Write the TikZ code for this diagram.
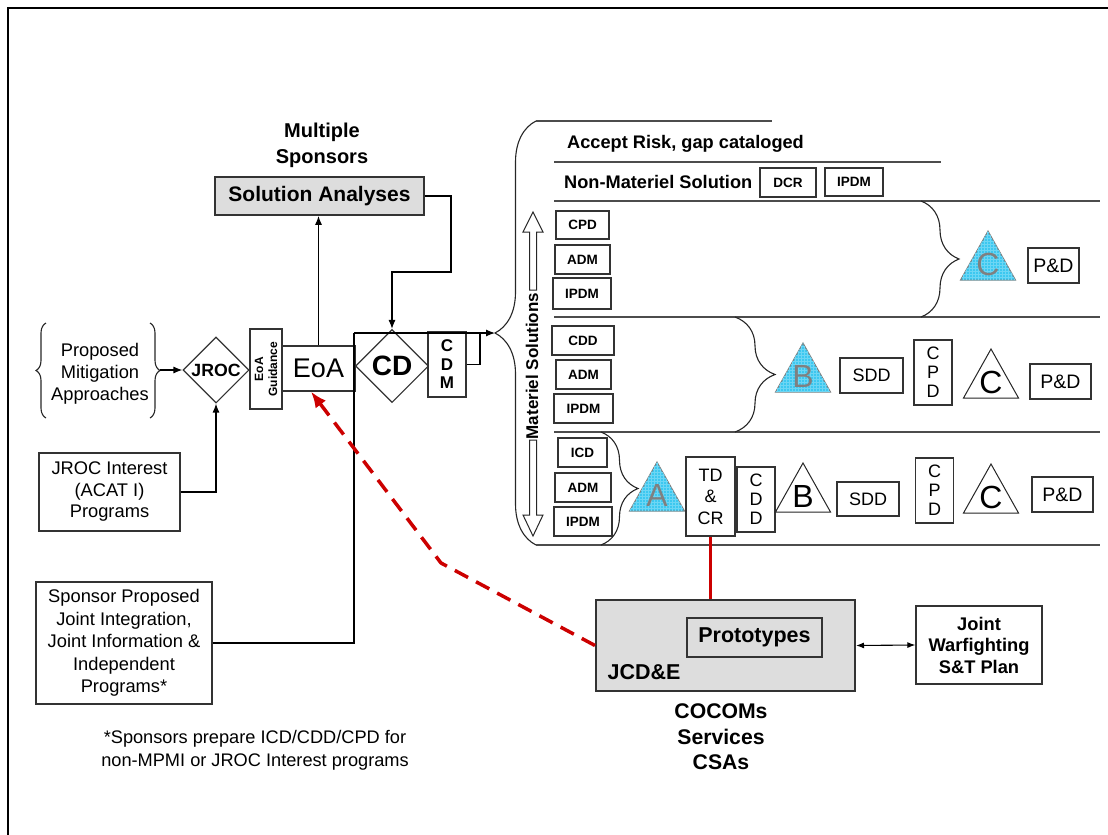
\documentclass[tikz,border=0pt]{standalone}
\usepackage{fontspec}
\setmainfont{Liberation Sans}
\usepackage{tikz}
\usetikzlibrary{arrows.meta,shapes.geometric,decorations.pathreplacing,patterns}

\definecolor{boxgray}{RGB}{221,221,221}
\definecolor{triblue}{RGB}{60,200,240}
\definecolor{signalred}{RGB}{204,0,0}

\newcommand{\fsz}[2]{\fontsize{#1}{#2}\selectfont}
% triangle milestone: name, x, base y, triangle style, letter colour, letter
\newcommand{\milestone}[6]{%
  \filldraw[#4] (#2-27.5,#3) -- (#2,#3-49) -- (#2+27.5,#3) -- cycle;
  \node[txt,text=#5,font=\fsz{32}{32}] (#1) at (#2,#3-16) {#6};
}

\tikzset{
  txt/.style={align=center,inner sep=0pt},
  box/.style={draw=black!80,line width=1.2pt,inner sep=0pt,align=center,font=\fsz{18.3}{21.5}},
  tinybox/.style={box,font=\bfseries\fsz{13.5}{15}},
  vertbox/.style={box,minimum width=38,minimum height=65,font=\fsz{18}{19}},
  greybox/.style={box,fill=boxgray,line width=1.6pt},
  decide/.style={draw=black!80,line width=1.1pt,diamond,aspect=1,inner sep=0pt},
  conn/.style={line width=1.2pt,-{Latex[length=9pt,width=7pt]}},
  curly/.style={decorate,decoration={brace,amplitude=#1},line width=1.1pt,draw=black!85},
  sepline/.style={line width=1.2pt,draw=black!70},
  hollow/.style={line width=1pt,draw=black!85,fill=white},
  bluetri/.style={draw=gray,line width=1pt,fill=triblue,postaction={pattern=grid,pattern color=white!25!triblue}},
  whitetri/.style={draw=black!85,line width=1pt,fill=white},
}

\begin{document}
\begin{tikzpicture}[x=1pt,y=-1pt]
\useasboundingbox (0,0) rectangle (1108,835);

% frame
\draw[line width=2.5pt] (8,835) -- (8,8) -- (1108,8);

% sponsors and analyses
\node[txt,font=\bfseries\fsz{20}{26}] (multi) at (322,145) {Multiple\\Sponsors};
\node[greybox,font=\bfseries\fsz{21}{24},minimum width=209,minimum height=38] (sa) at (319.5,196) {Solution Analyses};

% proposed mitigation
\node[txt,font=\fsz{18.3}{22}] (pma) at (100,374) {Proposed\\Mitigation\\Approaches};
\draw[curly=10] (46,418) -- (46,323);
\draw[curly=10] (150,323) -- (150,418);
\coordinate (pmtip) at (160,370);

% decision chain
\node[decide,minimum width=66,minimum height=66,font=\bfseries\fsz{17.7}{20}] (jroc) at (216,370) {JROC};
\node[box,rotate=90,minimum width=80,minimum height=32,font=\bfseries\fsz{12}{14}] (eoag) at (266,369) {EoA\\Guidance};
\node[box,minimum width=73,minimum height=45,font=\fsz{27}{28}] (eoa) at (318.5,368.5) {EoA};
\node[decide,minimum width=73,minimum height=73,font=\bfseries\fsz{28}{28}] (cd) at (392,366) {CD};
\node[box,minimum width=38,minimum height=65,font=\bfseries\fsz{17}{18.5}] (cdm) at (447,364.5) {C\\D\\M};

% program inputs
\node[box,minimum width=141,minimum height=78] (jint) at (109.5,492) {JROC Interest\\(ACAT I)\\Programs};
\node[box,minimum width=176,minimum height=122,font=\fsz{18.3}{22.4}] (spp) at (124,643) {Sponsor Proposed\\Joint Integration,\\Joint Information \&\\Independent\\Programs*};
\node[txt,font=\fsz{18.2}{23}] (note) at (255,750.5) {*Sponsors prepare ICD/CDD/CPD for\\non-MPMI or JROC Interest programs};

% connectors
\draw[conn] (pmtip) -- (jroc.west);
\draw[conn] (jint.east) -| (jroc.south);
\draw[conn] (eoa.north) -- (eoa.north |- sa.south);
\draw[conn] (sa.east) -| (451,272) -| (cd.north);
\coordinate (split) at (354,333);
\coordinate (bigtip) at (495,333);
\draw[line width=1.2pt] (spp.east) -| (split);
\draw[conn] (split) -- (bigtip);
\draw[line width=1.2pt] (cdm.east) -| (480,333);

% solution space
\draw[curly=41] (536,545) -- (536,121);
\draw[sepline] (536,121) -- (772,121);
\draw[sepline] (554,162) -- (941,162);
\foreach \y in {201,317,432}
  \draw[sepline] (554,\y) -- (1100,\y);
\draw[sepline] (536,545) -- (1100,545);

\node[txt,anchor=base west,font=\bfseries\fsz{18.2}{20}] (risk) at (567,148.5) {Accept Risk, gap cataloged};
\node[txt,anchor=base west,font=\bfseries\fsz{18.2}{20}] (nonmat) at (564,188.5) {Non-Materiel Solution};
\node[tinybox,minimum width=56,minimum height=29] (dcr) at (788,182.5) {DCR};
\node[tinybox,minimum width=58,minimum height=28] (ipdmn) at (854,182) {IPDM};

% materiel solutions arrows
\node[txt,rotate=90,font=\bfseries\fsz{17}{20}] (matsol) at (532,366) {Materiel Solutions};
\draw[hollow] (529.5,290) -- (529.5,232) -- (523,232) -- (533,212) -- (543,232) -- (536.5,232) -- (536.5,290) -- cycle;
\draw[hollow] (529.5,440) -- (529.5,515) -- (523,515) -- (533,536) -- (543,515) -- (536.5,515) -- (536.5,440) -- cycle;

% row C
\node[tinybox,minimum width=53,minimum height=28] (cpd1) at (582.5,225) {CPD};
\node[tinybox,minimum width=55,minimum height=29] (adm1) at (582.5,259.5) {ADM};
\node[tinybox,minimum width=58,minimum height=31] (ipdm1) at (582,293.5) {IPDM};
\draw[curly=38] (921,201) -- (921,317);
\milestone{tc1}{988}{280}{bluetri}{gray}{C}
\node[box,minimum width=51,minimum height=35,font=\fsz{19.5}{21}] (pd1) at (1053.5,265.5) {P\&D};

% row B
\node[tinybox,minimum width=62,minimum height=29] (cdd2) at (583,340.5) {CDD};
\node[tinybox,minimum width=55,minimum height=29] (adm2) at (583.5,374.5) {ADM};
\node[tinybox,minimum width=59,minimum height=29] (ipdm2) at (583.5,408.5) {IPDM};
\draw[curly=40] (735,317) -- (735,432);
\milestone{tb2}{803}{392}{bluetri}{gray}{B}
\node[box,minimum width=63,minimum height=35,font=\fsz{18}{21}] (sdd2) at (871.5,375.5) {SDD};
\node[vertbox] (cpd2) at (933,372.5) {C\\P\\D};
\milestone{tc2}{991}{398}{whitetri}{black}{C}
\node[box,minimum width=61,minimum height=35,font=\fsz{19.5}{21}] (pd2) at (1060.5,381.5) {P\&D};

% row A
\node[tinybox,minimum width=49,minimum height=29] (icd3) at (582.5,452.5) {ICD};
\node[tinybox,minimum width=56,minimum height=29] (adm3) at (583,487.5) {ADM};
\node[tinybox,minimum width=58,minimum height=29] (ipdm3) at (583,521.5) {IPDM};
\draw[curly=37] (601,432) -- (601,545);
\milestone{ta3}{657}{511}{bluetri}{gray}{A}
\node[box,minimum width=49,minimum height=79,font=\fsz{18}{21.5}] (tdcr) at (710.5,496.5) {TD\\\&\\CR};
\node[vertbox] (cdd3) at (756,499.5) {C\\D\\D};
\milestone{tb3}{803}{512}{whitetri}{black}{B}
\node[box,minimum width=62,minimum height=34,font=\fsz{18}{21}] (sdd3) at (868,499) {SDD};
\node[vertbox] (cpd3) at (934.5,490.5) {C\\P\\D};
\milestone{tc3}{991}{513}{whitetri}{black}{C}
\node[box,minimum width=61,minimum height=35,font=\fsz{19.5}{21}] (pd3) at (1062.5,494.5) {P\&D};

% JCD&E
\node[greybox,line width=2pt,minimum width=259,minimum height=91] (jcde) at (725.5,645.5) {};
\node[greybox,line width=1.1pt,minimum width=135,minimum height=39,font=\bfseries\fsz{21.5}{24}] (proto) at (754.5,637.5) {Prototypes};
\node[txt,font=\bfseries\fsz{21.5}{24}] (jcdelbl) at (644,672) {JCD\&E};
\node[box,minimum width=126,minimum height=78,font=\bfseries\fsz{18.3}{21.5}] (jwp) at (979,645) {Joint\\Warfighting\\S\&T Plan};
\node[txt,font=\bfseries\fsz{21.2}{25.5}] (cocom) at (721,737) {COCOMs\\Services\\CSAs};
\draw[line width=1.1pt,{Latex[length=8pt,width=6pt]}-{Latex[length=8pt,width=6pt]}] (jcde.east) -- (jwp.west);

% red links
\draw[line width=3.5pt,signalred] (tdcr.south) -- (tdcr.south |- jcde.north);
\coordinate (bend) at (441,563);
\draw[line width=3.5pt,signalred,dash pattern=on 15pt off 9pt,-{Latex[length=16pt,width=13pt]}] (jcde.west) -- (bend) -- (eoa.-108);

\end{tikzpicture}
\end{document}
